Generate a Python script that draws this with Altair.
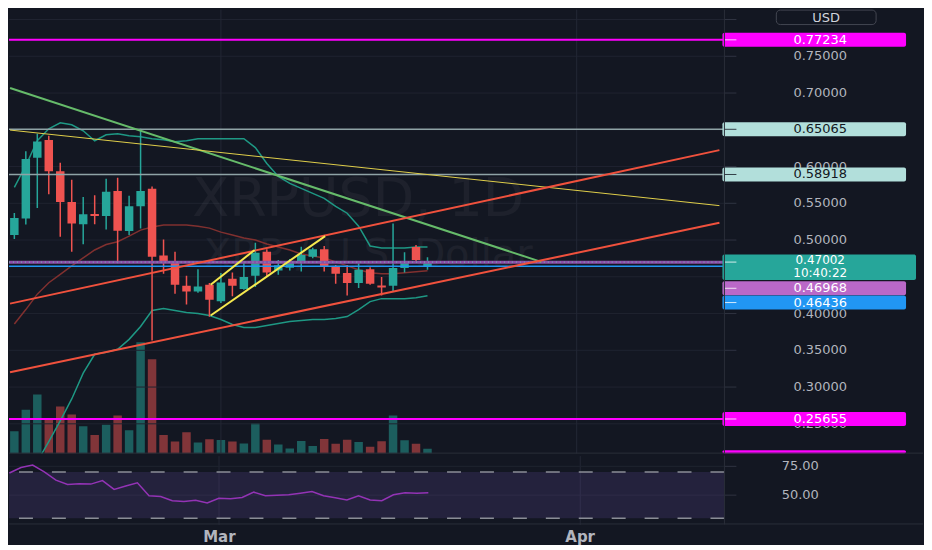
import altair as alt
import pandas as pd

# ---------------- data ----------------
dates = ([f"2021-02-{d:02d}" for d in range(11, 29)] +
         [f"2021-03-{d:02d}" for d in range(1, 20)])

opens = [0.5068, 0.5293, 0.6118, 0.6361, 0.5936, 0.5518, 0.5216, 0.5355, 0.5328, 0.5666,
         0.5122, 0.5459, 0.5699, 0.4791, 0.4707, 0.4378, 0.4301, 0.4392, 0.4166, 0.4473,
         0.4334, 0.4514, 0.4842, 0.4585, 0.4622, 0.4703, 0.4774, 0.4874, 0.4639, 0.4550,
         0.4415, 0.4604, 0.4382, 0.4378, 0.4618, 0.4905, 0.4639]
highs = [0.5369, 0.6207, 0.6446, 0.6419, 0.6050, 0.5820, 0.5585, 0.5608, 0.5834, 0.5847,
         0.5604, 0.6514, 0.5730, 0.5009, 0.4842, 0.4514, 0.4604, 0.4415, 0.4550, 0.4558,
         0.4707, 0.4964, 0.4874, 0.4730, 0.4743, 0.4910, 0.4896, 0.4919, 0.4662, 0.4662,
         0.4685, 0.4631, 0.4496, 0.5226, 0.4834, 0.4932, 0.4766]
lows = [0.5014, 0.5212, 0.5436, 0.5622, 0.5045, 0.4842, 0.4942, 0.5216, 0.5145, 0.4685,
        0.5068, 0.5158, 0.3635, 0.4541, 0.4270, 0.4122, 0.4284, 0.3955, 0.4145, 0.4234,
        0.4324, 0.4361, 0.4504, 0.4527, 0.4585, 0.4572, 0.4753, 0.4572, 0.4405, 0.4247,
        0.4347, 0.4392, 0.4247, 0.4301, 0.4558, 0.4689, 0.4595]
closes = [0.5301, 0.6104, 0.6342, 0.5936, 0.5518, 0.5226, 0.5351, 0.5328, 0.5658, 0.5126,
          0.5459, 0.5666, 0.4774, 0.4707, 0.4392, 0.4301, 0.4369, 0.4189, 0.4423, 0.4378,
          0.4496, 0.4828, 0.4558, 0.4658, 0.4689, 0.4797, 0.4874, 0.4639, 0.4541, 0.4415,
          0.4595, 0.4405, 0.4355, 0.4618, 0.4716, 0.4730, 0.47002]
volumes = [1150, 2250, 3035, 1785, 2415, 2000, 1400, 950, 1485, 1950,
           1200, 5700, 4835, 950, 615, 1100, 565, 735, 700, 615,
           515, 1550, 715, 465, 265, 650, 385, 750, 500, 715,
           600, 350, 635, 1950, 685, 500, 250]

bb_upper = [0.5716, 0.6014, 0.6351, 0.6514, 0.6595, 0.6568, 0.6486, 0.6351, 0.6432, 0.6446,
            0.6419, 0.6405, 0.6378, 0.6365, 0.6338, 0.6351, 0.6378, 0.6378, 0.6378, 0.6378,
            0.6378, 0.6257, 0.6041, 0.5865, 0.5770, 0.5703, 0.5635, 0.5568, 0.5459, 0.5365,
            0.5189, 0.4919, 0.4892, 0.4892, 0.4892, 0.4905, 0.4905]
bb_basis = [0.3858, 0.4054, 0.4264, 0.4419, 0.4534, 0.4649, 0.4757, 0.4865, 0.4939, 0.4977,
            0.5054, 0.5135, 0.5176, 0.5203, 0.5203, 0.5203, 0.5189, 0.5162, 0.5108, 0.5068,
            0.5027, 0.5000, 0.4946, 0.4905, 0.4865, 0.4811, 0.4784, 0.4757, 0.4703, 0.4649,
            0.4595, 0.4554, 0.4541, 0.4541, 0.4554, 0.4568, 0.4581]
bb_lower = [0.1892, 0.1919, 0.1986, 0.2257, 0.2541, 0.2838, 0.3189, 0.3446, 0.3473, 0.3514,
            0.3649, 0.3824, 0.4041, 0.4068, 0.4041, 0.4014, 0.4000, 0.3973, 0.3919, 0.3851,
            0.3811, 0.3811, 0.3838, 0.3865, 0.3892, 0.3905, 0.3919, 0.3919, 0.3932, 0.3959,
            0.4054, 0.4162, 0.4203, 0.4203, 0.4203, 0.4216, 0.4243]

rsi_values = [69.2, 74.0, 76.1, 70.2, 63.0, 59.2, 60.0, 59.6, 62.6, 55.0,
              57.9, 60.7, 49.5, 48.9, 45.2, 44.6, 45.5, 43.3, 47.3, 46.9,
              48.0, 52.6, 49.5, 50.0, 50.3, 51.7, 53.1, 49.5, 47.8, 45.8,
              49.5, 45.8, 45.2, 50.3, 52.0, 51.7, 52.2]
rsi_upper, rsi_lower = 70, 30

price_ticks = [0.25, 0.30, 0.35, 0.40, 0.45, 0.50, 0.55, 0.60, 0.65, 0.70, 0.75, 0.80]
# tick labels that are not completely covered by the price tags in the picture
price_tick_labels = [0.25, 0.30, 0.35, 0.40, 0.50, 0.55, 0.60, 0.70, 0.75]
rsi_ticks = [50, 75]
month_starts = ["2021-03-01", "2021-04-01"]

level_prices = [0.77234, 0.65065, 0.58918, 0.46968, 0.46436, 0.25655]
hidden_level = 0.20470
last_price = 0.47002
countdown = "10:40:22"

trend_t1 = ["2021-02-10T15:00:00Z", "2021-02-10T15:00:00Z", "2021-02-10T15:00:00Z",
            "2021-02-10T15:00:00Z", "2021-02-28T02:30:00Z", "2021-02-28T02:30:00Z"]
trend_p1 = [0.7068, 0.6496, 0.4135, 0.3201, 0.4392, 0.3973]
trend_t2 = ["2021-03-28T22:00:00Z", "2021-04-13T10:30:00Z", "2021-04-13T10:30:00Z",
            "2021-04-13T10:30:00Z", "2021-03-03T22:30:00Z", "2021-03-10T02:00:00Z"]
trend_p2 = [0.4703, 0.5468, 0.6223, 0.5234, 0.4865, 0.5054]

watermark_symbol = "XRPUSD, 1D"
watermark_name = "XRP / U.S. Dollar"
currency = "USD"

# ---------------- layout and style ----------------
W, H1, H2, STRIP = 717, 445, 69, 199
BG = "#131722"
UP, DOWN = "#26a69a", "#ef5350"
GRID = "#1f2330"
SEP = "#2a2e39"
TXT = "#b2b5be"
FONT = "DejaVu Sans"
LABEL_X = W + 96

P_MIN, P_MAX = 0.20946, 0.81351
PX = H1 / (P_MAX - P_MIN)


def dt(y, m, d, h=0, mi=0):
    return alt.DateTime(year=y, month=m, date=d, hours=h, minutes=mi, utc=True)


x_scale = alt.Scale(type="utc", domain=[dt(2021, 2, 10, 23, 15), dt(2021, 4, 13, 10, 33)])
p_scale = alt.Scale(domain=[P_MIN, P_MAX], zero=False, nice=False)
r_scale = alt.Scale(domain=[24.6, 84.3], zero=False, nice=False)


def XT(field, axis=None):
    return alt.X(f"{field}:T", scale=x_scale, axis=axis)


def PY(field):
    return alt.Y(f"{field}:Q", scale=p_scale, axis=None)


def RY(field):
    return alt.Y(f"{field}:Q", scale=r_scale, axis=None)


def one_row():
    return pd.DataFrame({"a": [0]})


candles = pd.DataFrame({"date": dates, "open": opens, "high": highs, "low": lows,
                        "close": closes, "volume": volumes})
color_cond = alt.condition("datum.close >= datum.open", alt.value(UP), alt.value(DOWN))

volume = alt.Chart(candles).mark_bar(size=8.5, opacity=0.5, clip=True).encode(
    x=XT("date"),
    y=alt.Y("volume:Q", scale=alt.Scale(domain=[0, 22750], nice=False), axis=None),
    color=color_cond)

ticks_df = pd.DataFrame({"p": price_ticks})
tick_labels_df = pd.DataFrame({"p": price_tick_labels})
price_grid = alt.Chart(ticks_df).mark_rule(color=GRID, strokeWidth=1).encode(y=PY("p"))
price_tick_marks = alt.Chart(ticks_df).mark_rule(color="#2f3341", strokeWidth=1).encode(
    x=alt.value(W), x2=alt.value(W + 12), y=PY("p"))
price_tick_text = alt.Chart(tick_labels_df).mark_text(
    color=TXT, font=FONT, fontSize=13, align="center", baseline="middle").encode(
    x=alt.value(LABEL_X), y=PY("p"), text=alt.Text("p:Q", format=".5f"))

month_grid = alt.Chart(pd.DataFrame({"m": month_starts})).mark_rule(
    color="#232734", strokeWidth=1).encode(x=XT("m"))

wm1 = alt.Chart(pd.DataFrame({"t": [watermark_symbol]})).mark_text(
    font=FONT, fontSize=54, color="#ffffff", opacity=0.045, align="center",
    baseline="middle").encode(x=alt.value(350), y=alt.value(191), text="t:N")
wm2 = alt.Chart(pd.DataFrame({"t": [watermark_name]})).mark_text(
    font=FONT, fontSize=40, color="#ffffff", opacity=0.045, align="center",
    baseline="middle").encode(x=alt.value(360), y=alt.value(246), text="t:N")

bb = pd.DataFrame({"date": dates, "upper": bb_upper, "basis": bb_basis, "lower": bb_lower})
bb_u = alt.Chart(bb).mark_line(color="#1e9884", strokeWidth=1.5, clip=True).encode(
    x=XT("date"), y=PY("upper"))
bb_m = alt.Chart(bb).mark_line(color="#80302f", strokeWidth=1.5, clip=True).encode(
    x=XT("date"), y=PY("basis"))
bb_l = alt.Chart(bb).mark_line(color="#1e9884", strokeWidth=1.5, clip=True).encode(
    x=XT("date"), y=PY("lower"))

wicks = alt.Chart(candles).mark_rule(strokeWidth=1.5, clip=True).encode(
    x=XT("date"), y=PY("low"), y2="high:Q", color=color_cond)
bodies = alt.Chart(candles).mark_bar(size=8.5, clip=True).encode(
    x=XT("date"), y=PY("open"), y2="close:Q", color=color_cond)

level_style = [("#ff00ff", 2), ("#8fa3a6", 1.5), ("#8fa3a6", 1.5),
               ("#8c4ea8", 3), ("#2196f3", 1.5), ("#ff00ff", 2)]
level_layers = [
    alt.Chart(pd.DataFrame({"p": [p]})).mark_rule(color=c, strokeWidth=w, clip=True)
    .encode(y=PY("p"))
    for p, (c, w) in zip(level_prices, level_style)
]
current_line = alt.Chart(pd.DataFrame({"p": [last_price]})).mark_rule(
    color="#6cc3b8", strokeWidth=1, strokeDash=[1, 3], clip=True).encode(y=PY("p"))

trend_style = [("#66bb6a", 2), ("#e0cf4a", 1), ("#f0513d", 2), ("#f0513d", 2),
               ("#f5e94f", 2), ("#f5e94f", 2)]
trend_layers = []
for t1, p1, t2, p2, (c, w) in zip(trend_t1, trend_p1, trend_t2, trend_p2, trend_style):
    df = pd.DataFrame({"t1": [t1], "p1": [p1], "t2": [t2], "p2": [p2]})
    trend_layers.append(
        alt.Chart(df).mark_rule(color=c, strokeWidth=w, clip=True).encode(
            x=XT("t1"), x2="t2:T", y=PY("p1"), y2="p2:Q"))


def price_label(p, text, bg, fg, off_px=0.0, up_px=7.0, down_px=7.0, right=182,
                second=None, size=13):
    mid = p - off_px / PX
    df = pd.DataFrame({"top": [mid + up_px / PX],
                       "bot": [max(mid - down_px / PX, P_MIN)],
                       "mid": [mid], "label": [text], "label2": [second or ""]})
    base = alt.Chart(df)
    out = [base.mark_rect(color=bg, cornerRadius=2).encode(
        x=alt.value(W - 2), x2=alt.value(W + right), y=PY("top"), y2="bot:Q")]
    if text:
        out.append(base.mark_rule(color=fg, strokeWidth=1, opacity=0.8).encode(
            x=alt.value(W), x2=alt.value(W + 12), y=PY("mid")))
        out.append(base.mark_text(color=fg, font=FONT, fontSize=size, align="center",
                                  baseline="middle", dy=-2 if second else 0).encode(
            x=alt.value(LABEL_X), y=PY("mid"), text="label:N"))
    if second:
        out.append(base.mark_text(color=fg, font=FONT, fontSize=size, align="center",
                                  baseline="middle", dy=11).encode(
            x=alt.value(LABEL_X), y=PY("mid"), text="label2:N"))
    return out


labels = []
labels += price_label(level_prices[0], f"{level_prices[0]:.5f}", "#ff00ff", "#ffffff")
labels += price_label(level_prices[1], f"{level_prices[1]:.5f}", "#b2dfdb", BG)
labels += price_label(level_prices[2], f"{level_prices[2]:.5f}", "#b2dfdb", BG)
labels += price_label(level_prices[5], f"{level_prices[5]:.5f}", "#ff00ff", "#ffffff")
labels += price_label(hidden_level, "", "#ff00ff", "#ffffff")
labels += price_label(level_prices[3], f"{level_prices[3]:.5f}", "#ba68c8", "#ffffff", off_px=26)
labels += price_label(level_prices[4], f"{level_prices[4]:.5f}", "#2196f3", "#ffffff", off_px=36.4)
labels += price_label(last_price, f"{last_price:.5f}", "#26a69a", "#ffffff",
                      up_px=7.5, down_px=18, right=192, second=countdown, size=12)

usd_df = alt.Chart(pd.DataFrame({"t": [currency]}))
usd_box = usd_df.mark_rect(fill=BG, stroke="#434651", strokeWidth=1, cornerRadius=4).encode(
    x=alt.value(W + 52), x2=alt.value(W + 152), y=alt.value(0.5), y2=alt.value(15))
usd_txt = usd_df.mark_text(color="#d1d4dc", font=FONT, fontSize=13, align="center",
                           baseline="middle").encode(x=alt.value(W + 102), y=alt.value(8),
                                                     text="t:N")

sep_main = alt.Chart(one_row()).mark_rule(color=SEP, strokeWidth=1).encode(
    x=alt.value(0), x2=alt.value(W + STRIP), y=alt.value(H1 - 0.5))
vsep_main = alt.Chart(one_row()).mark_rule(color=SEP, strokeWidth=1).encode(
    x=alt.value(W), y=alt.value(0), y2=alt.value(H1))

price_layers = alt.layer(
    price_grid, month_grid, wm1, wm2, price_tick_marks, price_tick_text,
    bb_u, bb_m, bb_l, wicks, bodies,
    *level_layers, current_line, *trend_layers, *labels, usd_box, usd_txt,
    sep_main, vsep_main)

main = alt.layer(volume, price_layers).resolve_scale(y="independent").properties(
    width=W, height=H1)

# ---------------- RSI pane ----------------
x_axis_bottom = alt.Axis(values=[dt(2021, 3, 1), dt(2021, 4, 1)], format="%b", grid=True,
                         gridColor="#232734", ticks=False, domain=False, labelColor=TXT,
                         labelFontSize=15, labelFontWeight="bold", labelFont=FONT,
                         labelPadding=5, title=None, labelFlush=False)

rsi_ticks_df = pd.DataFrame({"r": rsi_ticks})
rsi_grid = alt.Chart(rsi_ticks_df).mark_rule(color=GRID, strokeWidth=1).encode(y=RY("r"))
rsi_tick_marks = alt.Chart(rsi_ticks_df).mark_rule(color="#2f3341", strokeWidth=1).encode(
    x=alt.value(W), x2=alt.value(W + 12), y=RY("r"))
rsi_tick_text = alt.Chart(rsi_ticks_df).mark_text(
    color=TXT, font=FONT, fontSize=13, align="center", baseline="middle").encode(
    x=alt.value(W + 76), y=RY("r"), text=alt.Text("r:Q", format=".2f"))

band = alt.Chart(pd.DataFrame({"hi": [rsi_upper], "lo": [rsi_lower]})).mark_rect(
    color="#7e57c2", opacity=0.17).encode(
    x=alt.value(0), x2=alt.value(W), y=RY("hi"), y2="lo:Q")
bounds = alt.Chart(pd.DataFrame({"lv": [rsi_upper, rsi_lower]})).mark_rule(
    color="#8a8d96", strokeDash=[14, 19], strokeWidth=1.5).encode(y=RY("lv"))
rsi_line = alt.Chart(pd.DataFrame({"date": dates, "rsi": rsi_values})).mark_line(
    color="#9333b5", strokeWidth=1.5, clip=True).encode(
    x=XT("date", x_axis_bottom), y=RY("rsi"))
sep_rsi = alt.Chart(one_row()).mark_rule(color=SEP, strokeWidth=1).encode(
    x=alt.value(0), x2=alt.value(W + STRIP), y=alt.value(H2 - 0.5))
vsep_rsi = alt.Chart(one_row()).mark_rule(color=SEP, strokeWidth=1).encode(
    x=alt.value(W), y=alt.value(0), y2=alt.value(H2))

rsi_chart = alt.layer(rsi_grid, band, bounds, rsi_tick_marks, rsi_tick_text, rsi_line,
                      sep_rsi, vsep_rsi).properties(width=W, height=H2)

chart = alt.vconcat(main, rsi_chart, spacing=0, padding=0).configure(
    background=BG).configure_view(strokeWidth=0)

chart.save("out.html", embed_options={"renderer": "svg", "actions": False})
